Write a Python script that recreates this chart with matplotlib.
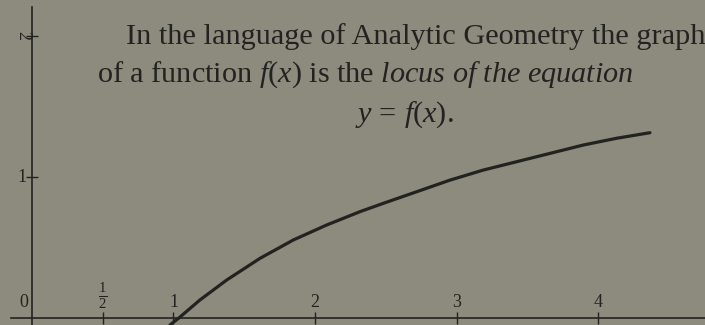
import matplotlib
matplotlib.use("Agg")
import matplotlib.pyplot as plt

plt.rcParams['font.family'] = ['Liberation Serif', 'DejaVu Serif']
plt.rcParams['mathtext.fontset'] = 'custom'
plt.rcParams['mathtext.rm'] = 'Liberation Serif'
plt.rcParams['mathtext.it'] = 'Liberation Serif:italic'

# curve points
curve_x = [0.975, 1.034, 1.187, 1.376, 1.611, 1.847, 2.083, 2.318, 2.483,
           2.719, 2.954, 3.189, 3.425, 3.661, 3.896, 4.132, 4.367]
curve_y = [-0.046, 0.0, 0.131, 0.272, 0.425, 0.555, 0.661, 0.755, 0.814,
           0.896, 0.978, 1.049, 1.108, 1.167, 1.226, 1.274, 1.313]

xticks = [0.5, 1, 2, 3, 4]
xtick_labels = [r'$\frac{1}{2}$', '1', '2', '3', '4']
yticks = [1, 2]
ytick_labels = ['1', '2']

text_lines = [
    "In the language of Analytic Geometry the graph",
    r"of a function $f(x)$ is the $\mathit{locus\ of\ the\ equation}$",
    r"$y\,=\,f(x).$",
]

bg = '#8d8b7e'
ink = '#222220'

fig = plt.figure(figsize=(7.05, 3.25), dpi=100, facecolor=bg)
ax = fig.add_axes([0, 0, 1, 1])
ax.set_facecolor(bg)
ax.set_xlim(-0.226, 4.756)
ax.set_ylim(-0.046, 2.251)

for s in ['top', 'right']:
    ax.spines[s].set_visible(False)
ax.spines['left'].set_position(('data', 0))
ax.spines['bottom'].set_position(('data', 0))
ax.spines['left'].set_bounds(-0.046, 2.2)
ax.spines['bottom'].set_bounds(-0.15, 4.756)
for s in ['left', 'bottom']:
    ax.spines[s].set_color(ink)
    ax.spines[s].set_linewidth(1.2)

ax.set_xticks(xticks)
ax.set_yticks(yticks)
ax.tick_params(axis='both', direction='inout', length=8, width=1.0, color=ink,
               labelbottom=False, labelleft=False)

ax.plot(curve_x, curve_y, color=ink, lw=2.3, solid_capstyle='round')

# tick labels sit above the x axis and left of the y axis, as in the book
for v, lab in zip(xticks, xtick_labels):
    ax.text(v, 0.05, lab, ha='center', va='bottom', fontsize=13 if v != 0.5 else 15,
            color=ink)
ax.text(-0.06, 0.05, '0', ha='center', va='bottom', fontsize=13, color=ink)
ax.text(-0.07, 1, ytick_labels[0], ha='center', va='center', fontsize=13, color=ink)
ax.text(-0.065, 2, ytick_labels[1], ha='center', va='center', fontsize=13,
        color=ink, rotation=-90)

fig.text(126 / 705, 1 - 37 / 325, text_lines[0], ha='left', va='center',
         fontsize=21.8, color=ink)
fig.text(97 / 705, 1 - 75 / 325, text_lines[1], ha='left', va='center',
         fontsize=21.8, color=ink)
fig.text(404 / 705, 1 - 115 / 325, text_lines[2], ha='center', va='center',
         fontsize=21.8, color=ink)

fig.savefig('out.png', dpi=100, facecolor=bg)
